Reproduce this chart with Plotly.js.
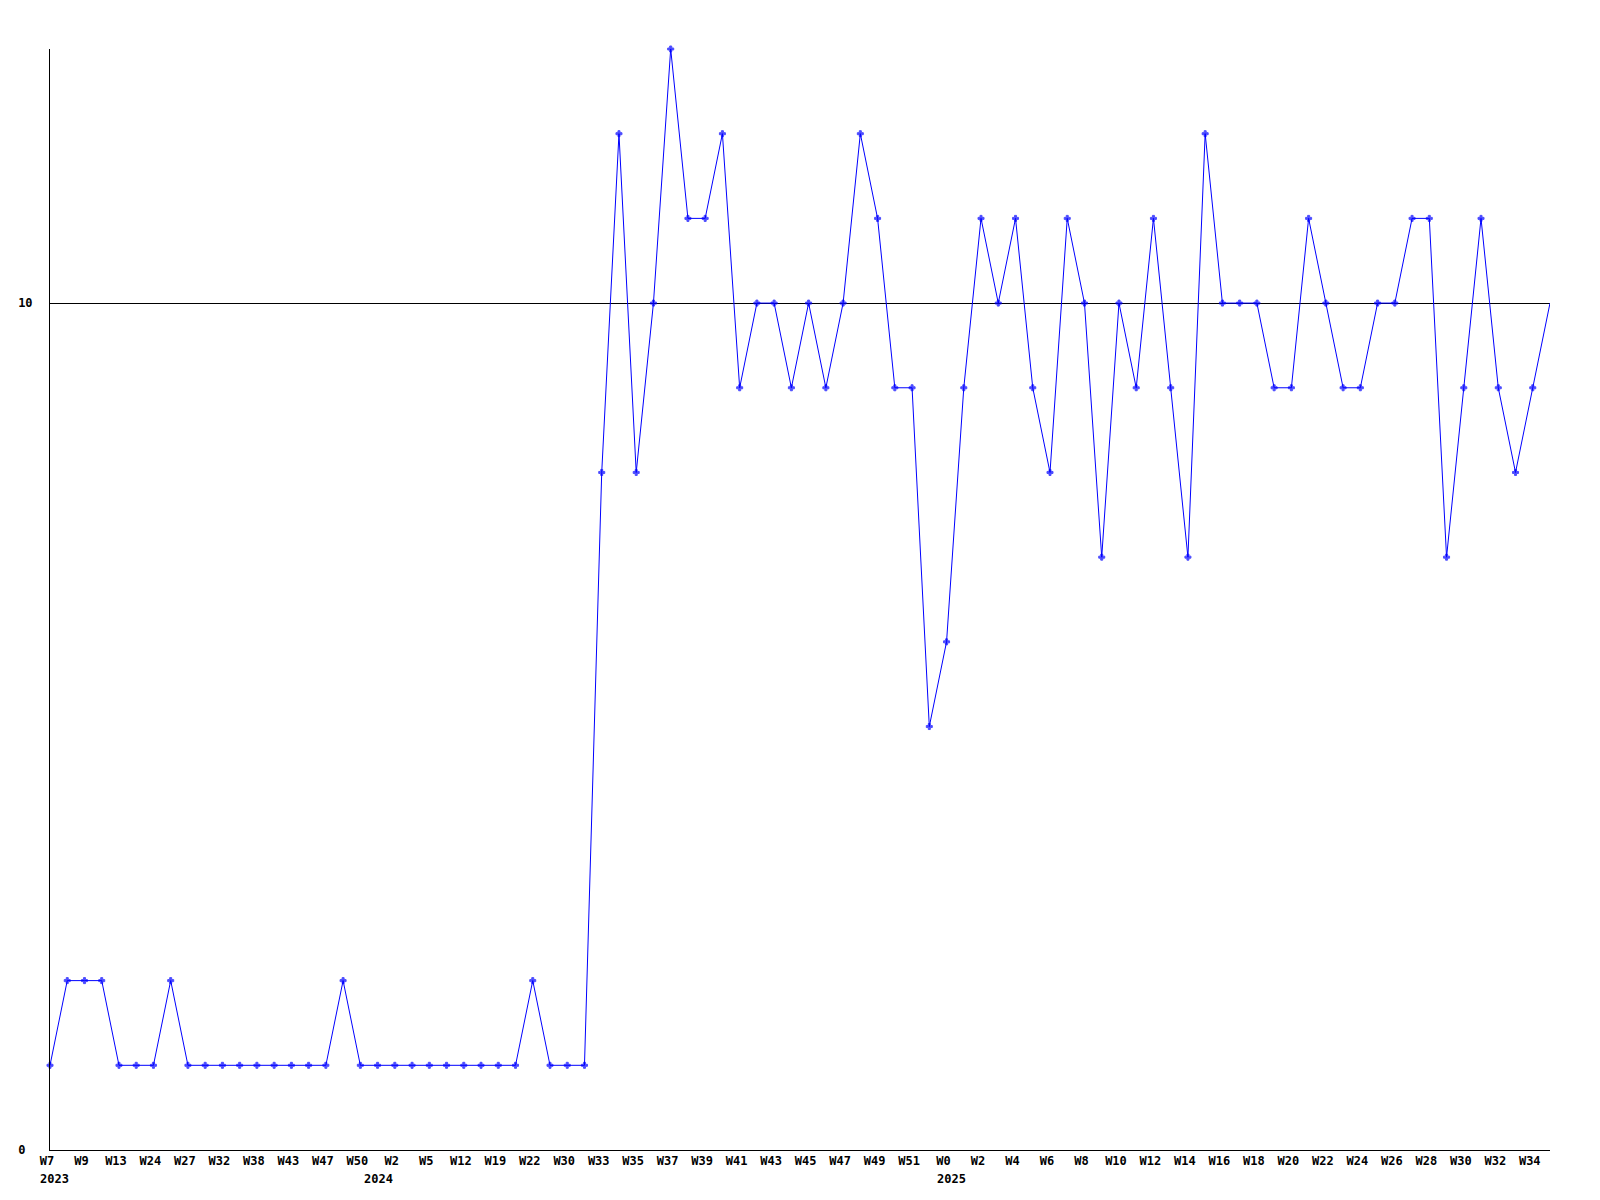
<!DOCTYPE html>
<html>
<head>
<meta charset="utf-8">
<script src="https://cdn.plot.ly/plotly-3.0.1.min.js"></script>
<style>
  html, body { margin: 0; padding: 0; background: #ffffff; }
  #chart { width: 1600px; height: 1200px; }
</style>
</head>
<body>
<div id="chart"></div>
<script>
// Weekly values, one per point (index 0..87)
const values = [
  1, 2, 2, 2, 1, 1, 1, 2, 1, 1,
  1, 1, 1, 1, 1, 1, 1, 2, 1, 1,
  1, 1, 1, 1, 1, 1, 1, 1, 2, 1,
  1, 1, 8, 12, 8, 10, 13, 11, 11, 12,
  9, 10, 10, 9, 10, 9, 10, 12, 11, 9,
  9, 5, 6, 9, 11, 10, 11, 9, 8, 11,
  10, 7, 10, 9, 11, 9, 7, 12, 10, 10,
  10, 9, 9, 11, 10, 9, 9, 10, 10, 11,
  11, 7, 9, 11, 9, 8, 9, 10
];

// Tick labels shown on every second point
const weekLabels = [
  "W7", "W9", "W13", "W24", "W27", "W32", "W38", "W43", "W47", "W50",
  "W2", "W5", "W12", "W19", "W22", "W30",
  "W33", "W35", "W37", "W39", "W41", "W43", "W45", "W47", "W49", "W51",
  "W0", "W2", "W4", "W6", "W8", "W10", "W12", "W14", "W16", "W18",
  "W20", "W22", "W24", "W26", "W28", "W30", "W32", "W34"
];

// Year labels and the point index where each year starts
const yearLabels = ["2023", "2024", "2025"];
const yearStartIndex = [0, 20, 52];
const yearAnchor = ["left", "right", "left"];

const yTickValues = [0, 10];
const yTickText = ["0\u00a0", "10"];

const xs = values.map((_, i) => i);
const tickvals = weekLabels.map((_, i) => i * 2);
// the last point is drawn without a marker in the reference
const markerSizes = values.map((_, i) => (i === values.length - 1 ? 0 : 5));

const font = { family: "DejaVu Sans Mono, Liberation Mono, monospace", size: 12, color: "#000000", weight: "bold" };

const trace = {
  x: xs,
  y: values,
  type: "scatter",
  mode: "lines+markers",
  line: { color: "#0000ff", width: 1 },
  marker: { color: "#0000ff", size: markerSizes, symbol: "cross", line: { width: 1, color: "#0000ff" } },
  cliponaxis: false,
  hoverinfo: "skip"
};

const annotations = yearLabels.map((t, k) => ({
  x: yearStartIndex[k],
  y: 0,
  xref: "x",
  yref: "y",
  text: t,
  showarrow: false,
  xanchor: yearAnchor[k],
  yanchor: "top",
  xshift: yearAnchor[k] === "left" ? -12 : 0,
  yshift: -20,
  font: font
}));

const layout = {
  width: 1600,
  height: 1200,
  paper_bgcolor: "#ffffff",
  plot_bgcolor: "#ffffff",
  margin: { l: 50, r: 50, t: 49, b: 50 },
  showlegend: false,
  xaxis: {
    range: [0, 87],
    tickmode: "array",
    tickvals: tickvals,
    ticktext: weekLabels,
    tickangle: 0,
    ticklabelshift: -3,
    showgrid: false,
    zeroline: false,
    showline: true,
    linecolor: "#000000",
    linewidth: 1,
    ticks: "",
    tickfont: font,
    fixedrange: true
  },
  yaxis: {
    range: [0, 13],
    tickmode: "array",
    tickvals: yTickValues,
    ticktext: yTickText,
    showgrid: true,
    gridcolor: "#000000",
    gridwidth: 1,
    zeroline: false,
    showline: true,
    linecolor: "#000000",
    linewidth: 1,
    ticks: "",
    ticklabelstandoff: 14,
    tickfont: font,
    fixedrange: true
  },
  annotations: annotations
};

Plotly.newPlot("chart", [trace], layout, { displayModeBar: false, staticPlot: true });
</script>
</body>
</html>
